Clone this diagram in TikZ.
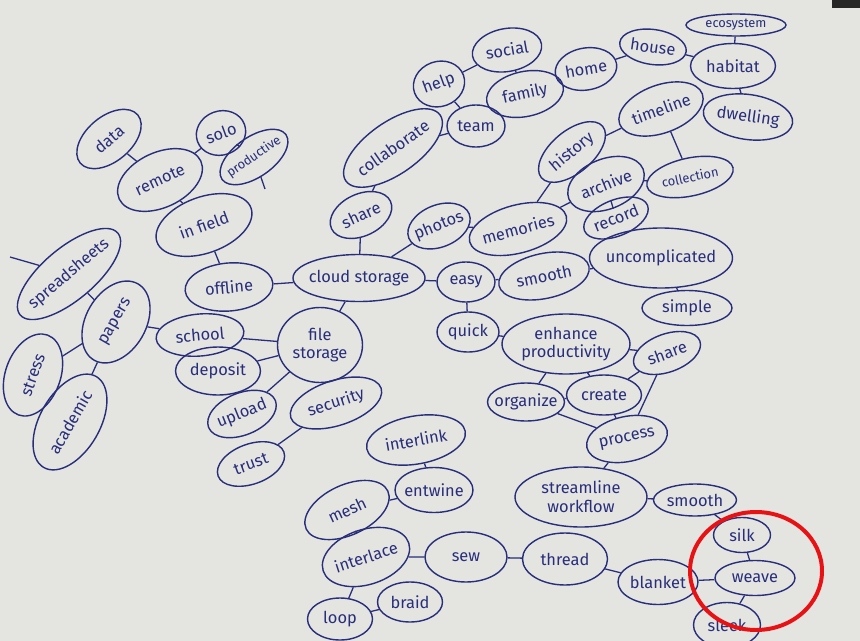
\documentclass[tikz,border=0pt]{standalone}
\usepackage{fontspec}
\setsansfont{Fira Sans}
\usetikzlibrary{shapes.geometric}
\definecolor{ink}{RGB}{40,46,122}
\definecolor{paper}{RGB}{228,228,225}
\definecolor{marker}{RGB}{232,18,20}
\tikzset{
  idea/.style={ellipse, draw=ink, line width=1.2pt, text=ink,
    inner xsep=-4pt, inner ysep=-3pt, align=center},
  sz/.style 2 args={minimum width=#1*0.03cm, minimum height=#2*0.03cm},
  tiny/.style={font=\sffamily\fontsize{11}{13}\selectfont},
  link/.style={draw=ink, line width=1.1pt}
}

\begin{document}
\begin{tikzpicture}[x=0.03cm, y=-0.03cm, font=\sffamily\fontsize{14}{16}\selectfont]
  % \draw[help lines] (0,0) grid[step=50] (860,641);
  \fill[paper] (0,0) rectangle (860,641);
  \fill[black!85] (832,0) rectangle (860,8);
  \useasboundingbox (0,0) rectangle (860,641);

  % left side
  \node[idea, sz={75}{45},  rotate=40] (data)       at (109,139) {data};
  \node[idea, sz={90}{55},  rotate=25] (remote)     at (160,180) {remote};
  \node[idea, sz={50}{44},  rotate=20] (solo)       at (221,133) {solo};
  \node[idea, tiny, sz={78}{40}, rotate=35] (productive) at (254,157) {productive};
  \node[idea, sz={100}{56}, rotate=20] (infield)    at (204,225) {in field};
  \node[idea, sz={88}{48},  rotate=5]  (offline)    at (229,287) {offline};
  \node[idea, sz={125}{52}, rotate=40] (sheets)     at (69,274)  {spreadsheets};
  \node[idea, sz={88}{60},  rotate=60] (papers)     at (116,322) {papers};
  \node[idea, sz={85}{55},  rotate=70] (stress)     at (33,375)  {stress};
  \node[idea, sz={105}{60}, rotate=60] (academic)   at (70,422)  {academic};
  \node[idea, sz={88}{42},  rotate=5]  (school)     at (200,335) {school};
  \node[idea, sz={85}{48}]             (deposit)    at (218,371) {deposit};
  \node[idea, sz={85}{75}]             (filestore)  at (320,345) {file\\storage};
  \node[idea, sz={72}{42},  rotate=22] (upload)     at (242,414) {upload};
  \node[idea, sz={95}{45},  rotate=18] (security)   at (336,403) {security};
  \node[idea, sz={70}{40},  rotate=20] (trust)      at (251,464) {trust};
  \node[idea, sz={132}{47}]            (cloud)      at (359,278) {cloud storage};
  \coordinate (prodend)  at (265,189);
  \coordinate (sheetend) at (10,257);

  % top
  \node[idea, sz={65}{42},  rotate=25] (shareL)     at (361,215) {share};
  \node[idea, sz={115}{52}, rotate=35] (collab)     at (393,148) {collaborate};
  \node[idea, sz={52}{45},  rotate=20] (help)       at (439,84)  {help};
  \node[idea, sz={70}{43},  rotate=10] (social)     at (507,50)  {social};
  \node[idea, sz={58}{42}]             (team)       at (476,126) {team};
  \node[idea, sz={78}{45},  rotate=12] (family)     at (525,94)  {family};
  \node[idea, sz={62}{42},  rotate=10] (home)       at (586,69)  {home};
  \node[idea, sz={67}{35},  rotate=-8] (house)      at (653,47)  {house};
  \node[idea, tiny, sz={100}{22}]      (ecosys)     at (736,25)  {ecosystem};
  \node[idea, sz={85}{45}]             (habitat)    at (733,66)  {habitat};
  \node[idea, sz={90}{45},  rotate=-8] (dwelling)   at (748,117) {dwelling};
  \node[idea, sz={88}{48},  rotate=20] (timeline)   at (661,109) {timeline};
  \node[idea, sz={80}{42},  rotate=40] (history)    at (572,152) {history};
  \node[idea, sz={80}{50},  rotate=22] (archive)    at (606,184) {archive};
  \node[idea, tiny, sz={88}{38}, rotate=12] (collection) at (690,177) {collection};
  \node[idea, sz={68}{36},  rotate=22] (record)     at (616,218) {record};
  \node[idea, sz={65}{42},  rotate=22] (photos)     at (439,226) {photos};
  \node[idea, sz={100}{48}, rotate=15] (memories)   at (518,229) {memories};

  % right side
  \node[idea, sz={58}{40}]             (easy)       at (466,282) {easy};
  \node[idea, sz={92}{45},  rotate=12] (smoothA)    at (544,276) {smooth};
  \node[idea, sz={133}{60}]            (uncomp)     at (661,258) {uncomplicated};
  \node[idea, sz={90}{35}]             (simple)     at (687,308) {simple};
  \node[idea, sz={62}{40}]             (quick)      at (468,332) {quick};
  \node[idea, sz={128}{60}]            (enhance)    at (566,344) {enhance\\productivity};
  \node[idea, sz={70}{38},  rotate=20] (shareR)     at (667,353) {share};
  \node[idea, sz={77}{38}]             (organize)   at (526,402) {organize};
  \node[idea, sz={75}{40}]             (create)     at (604,395) {create};
  \node[idea, sz={82}{45},  rotate=12] (process)    at (627,439) {process};
  \node[idea, sz={132}{60}]            (stream)     at (581,497) {streamline\\workflow};
  \node[idea, sz={83}{32}]             (smoothB)    at (695,500) {smooth};
  \node[idea, sz={57}{35}]             (silk)       at (742,535) {silk};
  \node[idea, sz={80}{35}]             (weave)      at (755,578) {weave};
  \node[idea, sz={80}{45}]             (blanket)    at (658,582) {blanket};
  \node[idea, sz={67}{45}]             (sleek)      at (727,625) {sleek};

  % bottom
  \node[idea, sz={85}{52}]             (thread)     at (565,559) {thread};
  \node[idea, sz={82}{50}]             (sew)        at (466,557) {sew};
  \node[idea, sz={90}{55},  rotate=18] (interlace)  at (366,557) {interlace};
  \node[idea, sz={90}{50},  rotate=25] (mesh)       at (347,510) {mesh};
  \node[idea, sz={78}{45}]             (entwine)    at (434,490) {entwine};
  \node[idea, sz={100}{48}, rotate=10] (interlink)  at (416,440) {interlink};
  \node[idea, sz={65}{42}]             (loop)       at (340,619) {loop};
  \node[idea, sz={65}{40}]             (braid)      at (410,602) {braid};

  \draw[link] (data) -- (remote);
  \draw[link] (remote) -- (solo);
  \draw[link] (solo) -- (productive);
  \draw[link] (productive) -- (prodend);
  \draw[link] (remote) -- (infield);
  \draw[link] (infield) -- (offline);
  \draw[link] (offline) -- (cloud);
  \draw[link] (sheets) -- (sheetend);
  \draw[link] (sheets) -- (papers);
  \draw[link] (papers) -- (stress);
  \draw[link] (papers) -- (academic);
  \draw[link] (papers) -- (school);
  \draw[link] (school) -- (filestore);
  \draw[link] (deposit) -- (filestore);
  \draw[link] (filestore) -- (cloud);
  \draw[link] (filestore) -- (upload);
  \draw[link] (filestore) -- (security);
  \draw[link] (security) -- (trust);

  \draw[link] (cloud) -- (shareL);
  \draw[link] (shareL) -- (collab);
  \draw[link] (collab) -- (team);
  \draw[link] (team) -- (help);
  \draw[link] (help) -- (social);
  \draw[link] (social) -- (family);
  \draw[link] (family) -- (home);
  \draw[link] (home) -- (house);
  \draw[link] (house) -- (habitat);
  \draw[link] (habitat) -- (ecosys);
  \draw[link] (habitat) -- (dwelling);
  \draw[link] (cloud) -- (photos);
  \draw[link] (photos) -- (memories);
  \draw[link] (memories) -- (history);
  \draw[link] (memories) -- (archive);
  \draw[link] (history) -- (timeline);
  \draw[link] (timeline) -- (collection);
  \draw[link] (archive) -- (collection);
  \draw[link] (archive) -- (record);

  \draw[link] (cloud) -- (easy);
  \draw[link] (easy) -- (smoothA);
  \draw[link] (smoothA) -- (uncomp);
  \draw[link] (uncomp) -- (simple);
  \draw[link] (easy) -- (quick);
  \draw[link] (quick) -- (enhance);
  \draw[link] (enhance) -- (shareR);
  \draw[link] (enhance) -- (organize);
  \draw[link] (enhance) -- (create);
  \draw[link] (shareR) -- (create);
  \draw[link] (shareR) -- (process);
  \draw[link] (create) -- (organize);
  \draw[link] (create) -- (process);
  \draw[link] (organize) -- (process);
  \draw[link] (process) -- (stream);
  \draw[link] (stream) -- (smoothB);
  \draw[link] (smoothB) -- (silk);
  \draw[link] (silk) -- (weave);
  \draw[link] (weave) -- (blanket);
  \draw[link] (weave) -- (sleek);

  \draw[link] (blanket) -- (thread);
  \draw[link] (thread) -- (sew);
  \draw[link] (sew) -- (interlace);
  \draw[link] (interlace) -- (mesh);
  \draw[link] (interlace) -- (loop);
  \draw[link] (loop) -- (braid);
  \draw[link] (mesh) -- (entwine);
  \draw[link] (entwine) -- (interlink);

  % the red ring
  \draw[marker, line width=3.4pt] (756,571) ellipse [x radius=66, y radius=59];
\end{tikzpicture}
\end{document}
